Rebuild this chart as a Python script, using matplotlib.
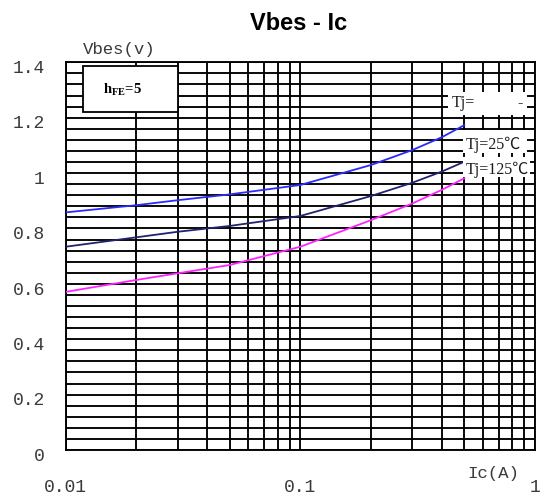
import numpy as np
import matplotlib
matplotlib.use("Agg")
import matplotlib.pyplot as plt
from matplotlib.patches import Rectangle
from matplotlib.ticker import FixedLocator, MultipleLocator, NullFormatter
from matplotlib.transforms import ScaledTranslation

# Collector current (A)
ic = [0.01, 0.02, 0.03, 0.05, 0.1, 0.2, 0.3, 0.4, 0.5]
# Base-emitter saturation voltage (V) at each junction temperature
vbes_cold = [0.858, 0.884, 0.902, 0.923, 0.957, 1.029, 1.083, 1.129, 1.173]
vbes_25 = [0.734, 0.768, 0.788, 0.809, 0.845, 0.917, 0.965, 1.005, 1.041]
vbes_125 = [0.571, 0.614, 0.638, 0.668, 0.734, 0.830, 0.890, 0.939, 0.981]

y_ticks = [0, 0.2, 0.4, 0.6, 0.8, 1.0, 1.2, 1.4]
y_tick_labels = ["0", "0.2", "0.4", "0.6", "0.8", "1", "1.2", "1.4"]
x_ticks = [0.01, 0.1, 1]
x_tick_labels = ["0.01", "0.1", "1"]

plt.rcParams["mathtext.fontset"] = "custom"
plt.rcParams["mathtext.rm"] = "Liberation Serif:bold"

fig = plt.figure(figsize=(5.47, 4.98), dpi=100)
ax = fig.add_axes([0.1201, 0.0964, 0.8578, 0.7785])

ax.set_xscale("log")
ax.set_xlim(0.01, 1)
ax.set_ylim(0, 1.4)

# dense log / linear grid
ax.set_xticks(x_ticks)
ax.set_xticklabels(x_tick_labels)
minor_x = [m * d for d in (0.01, 0.1) for m in range(2, 10)]
ax.xaxis.set_minor_locator(FixedLocator(minor_x))
ax.xaxis.set_minor_formatter(NullFormatter())
ax.set_yticks(y_ticks)
ax.set_yticklabels(y_tick_labels)
ax.yaxis.set_minor_locator(MultipleLocator(0.04))
ax.grid(True, which="both", color="black", linewidth=1.35)
ax.set_axisbelow(True)
for s in ax.spines.values():
    s.set_color("black")
    s.set_linewidth(1.35)

label_font = dict(family="Liberation Mono", size=13, color="#3a3a3a")
ax.tick_params(which="both", length=0)
ax.tick_params(axis="x", pad=21)
ax.tick_params(axis="y", pad=15)
for lab in ax.get_xticklabels() + ax.get_yticklabels():
    lab.set_fontfamily(label_font["family"])
    lab.set_fontsize(label_font["size"])
    lab.set_color(label_font["color"])
for lab in ax.get_yticklabels():
    lab.set_transform(lab.get_transform() + ScaledTranslation(0, -3 / 72, fig.dpi_scale_trans))

# curves
ax.plot(ic, vbes_cold, color="#2a2aff", lw=1.3, zorder=3)
ax.plot(ic, vbes_25, color="#22226e", lw=1.3, zorder=3)
ax.plot(ic, vbes_125, color="#ff22ff", lw=1.3, zorder=3)

# hFE box
ax.add_patch(Rectangle((0.0375, 0.8726), 0.2011, 0.1186, transform=ax.transAxes,
                       facecolor="white", edgecolor="black", lw=1.3, zorder=4))
ax.text(0.122, 0.9286, r"h$_{\mathregular{FE}}$=5", transform=ax.transAxes,
        ha="center", va="center", family="Liberation Serif", weight="bold",
        fontsize=10.5, zorder=5)

# temperature labels on white patches
serif = ["Liberation Serif", "Noto Sans CJK SC"]
for (x0, y0, w, h) in [(0.8146, 0.864, 0.1684, 0.060),
                       (0.8466, 0.766, 0.1364, 0.0594),
                       (0.8466, 0.705, 0.1420, 0.0515)]:
    ax.add_patch(Rectangle((x0, y0), w, h, transform=ax.transAxes,
                           facecolor="white", edgecolor="none", zorder=4))
tj_style = dict(transform=ax.transAxes, va="center", family=serif,
                fontsize=11.5, color="#1a1a1a", zorder=5)
ax.text(0.8232, 0.8943, "Tj=", ha="left", **tj_style)
ax.text(0.969, 0.8943, "-", ha="center", **tj_style)
ax.text(0.853, 0.7867, "Tj=25℃", ha="left", **tj_style)
ax.text(0.853, 0.7222, "Tj=125℃", ha="left", **tj_style)

# axis names
ax.text(0.1146, 1.0343, "Vbes(v)", transform=ax.transAxes, ha="center", va="center",
        family="Liberation Mono", fontsize=12.5, color="#3a3a3a")
ax.text(0.912, -0.0619, "Ic(A)", transform=ax.transAxes, ha="center", va="center",
        family="Liberation Mono", fontsize=12.5, color="#3a3a3a")

fig.text(0.5466, 0.9538, "Vbes - Ic", ha="center", va="center",
         family="Liberation Sans", weight="bold", fontsize=17)

fig.savefig("out.png", dpi=100)
